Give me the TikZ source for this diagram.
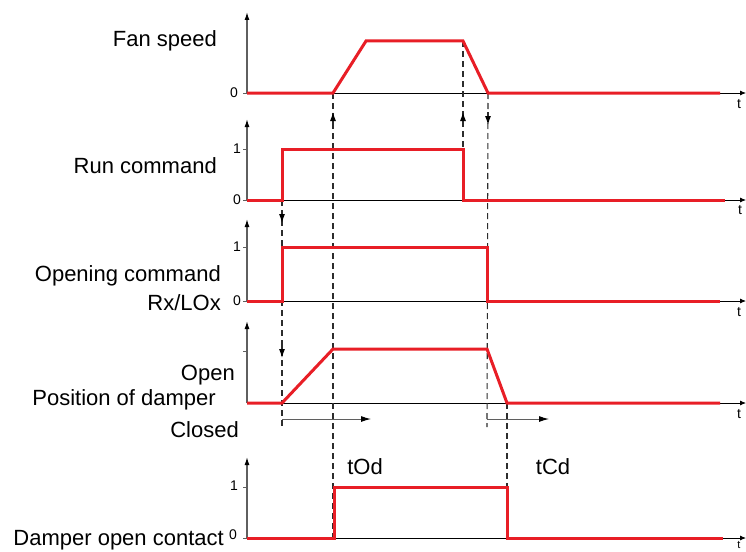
\documentclass[tikz,border=0pt]{standalone}
\usepackage{fontspec}
\setmainfont{Liberation Sans}
\usetikzlibrary{arrows.meta}
\definecolor{sigred}{RGB}{232,30,38}
\definecolor{axisgray}{RGB}{95,95,95}
\definecolor{dashgray}{RGB}{45,45,45}
\begin{document}
\begin{tikzpicture}[x=1pt,y=-1pt,
  sig/.style={sigred, line width=3pt, line join=miter},
  yaxis/.style={axisgray, line width=1.3pt, -{Latex[length=8pt,width=5pt,black]}},
  taxis/.style={black, line width=0.8pt, -{Latex[length=6pt,width=5pt]}},
  guide/.style={dashgray, line width=1.1pt, dash pattern=on 6pt off 4pt},
  midarrow/.style={dashgray, line width=1.1pt, -{Latex[length=9pt,width=6pt,black]}},
  span/.style={axisgray, line width=1pt, -{Latex[length=10pt,width=6pt,black]}},
  tick/.style={axisgray, line width=0.9pt},
  lab/.style={font=\fontsize{22}{25}\selectfont, inner sep=0pt},
  num/.style={font=\fontsize{14}{16}\selectfont, inner sep=0pt},
  tlab/.style={font=\fontsize{14}{16}\selectfont, inner sep=0pt}]
\useasboundingbox (0,0) rectangle (746,551);

% ---------- labels ----------
\node[lab, anchor=east] (lfan) at (217,41) {Fan speed};
\node[lab, anchor=east] (lrun) at (217,166) {Run command};
\node[lab, anchor=east] (lopen1) at (221,276) {Opening command};
\node[lab, anchor=east] (lopen2) at (221,303) {Rx/LOx};
\node[lab, anchor=east] (lpo) at (235,375) {Open};
\node[lab, anchor=east] (lpos) at (216,400) {Position of damper};
\node[lab, anchor=east] (lpc) at (239,430) {Closed};
\node[lab, anchor=east] (ldoc) at (224,540) {Damper open contact};
\node[lab] (ltod) at (365,467) {tOd};
\node[lab] (ltcd) at (553,467) {tCd};

% ---------- axes ----------
% panel 1
\coordinate (a1b) at (247,93); \coordinate (a1t) at (247,12);
\draw[yaxis] (a1b) -- (a1t);
\draw[taxis] (a1b) -- (746,93);
\draw[tick] (243,93) -- (a1b);
\node[num] (z1) at (234,93) {0};
\node[tlab] (t1) at (739,104) {t};
% panel 2
\coordinate (a2b) at (247,200); \coordinate (a2t) at (247,119);
\draw[yaxis] (a2b) -- (a2t);
\draw[taxis] (a2b) -- (746,200);
\draw[tick] (243,200) -- (a2b); \draw[tick] (243,149) -- (247,149);
\node[num] (z2) at (237,200) {0};
\node[num] (o2) at (237,149) {1};
\node[tlab] (t2) at (740,210) {t};
% panel 3
\coordinate (a3b) at (247,301); \coordinate (a3t) at (247,219);
\draw[yaxis] (a3b) -- (a3t);
\draw[taxis] (a3b) -- (746,301);
\draw[tick] (243,301) -- (a3b); \draw[tick] (243,247) -- (247,247);
\node[num] (z3) at (237,301) {0};
\node[num] (o3) at (237,247) {1};
\node[tlab] (t3) at (739,312) {t};
% panel 4
\coordinate (a4b) at (247,403); \coordinate (a4t) at (247,321);
\draw[yaxis] (a4b) -- (a4t);
\draw[taxis] (a4b) -- (746,403);
\draw[tick] (243,351) -- (247,351);
\node[tlab] (t4) at (739,414) {t};
% panel 5
\coordinate (a5b) at (247,538); \coordinate (a5t) at (247,457);
\draw[yaxis] (a5b) -- (a5t);
\draw[taxis] (a5b) -- (746,538);
\draw[tick] (243,538) -- (a5b); \draw[tick] (243,487) -- (247,487);
\node[num] (z5) at (233,535) {0};
\node[num] (o5) at (234,486) {1};
\node[tlab, font=\fontsize{11}{12}\selectfont] (t5) at (739,545) {t};

% ---------- signal corner points ----------
\coordinate (f1) at (333,93);  \coordinate (f2) at (366,41);
\coordinate (f3) at (463,41);  \coordinate (f4) at (488,93);
\coordinate (r1) at (282,200); \coordinate (r2) at (282,149);
\coordinate (r3) at (463,149); \coordinate (r4) at (463,200);
\coordinate (o1) at (282,301); \coordinate (oc2) at (282,247);
\coordinate (oc3) at (487,247); \coordinate (oc4) at (487,301);
\coordinate (p1) at (282,403); \coordinate (p2) at (333,349);
\coordinate (p3) at (487,349); \coordinate (p4) at (507,403);
\coordinate (c1) at (334,538); \coordinate (c2) at (334,487);
\coordinate (c3) at (507,487); \coordinate (c4) at (507,538);

% ---------- dashed guides ----------
\coordinate (g1e) at (333,538);
\coordinate (g2e) at (282,427);
\coordinate (g3e) at (487,427);
\draw[guide] (f1) -- (g1e);
\draw[guide] (f3) -- (r3);
\draw[guide] (f4) -- (g3e);
\draw[guide] (r1) -- (g2e);
\draw[guide] (p4) -- (c4);

% ---------- timing spans ----------
\coordinate (s1a) at (282,419); \coordinate (s1b) at (371,419);
\coordinate (s2a) at (487,419); \coordinate (s2b) at (549,419);
\draw[span] (s1a) -- (s1b);
\draw[span] (s2a) -- (s2b);

% ---------- signals ----------
\draw[sig] (a1b) -- (f1) -- (f2) -- (f3) -- (f4) -- (720,93);
\draw[sig] (a2b) -- (r1) -- (r2) -- (r3) -- (r4) -- (725,200);
\draw[sig] (a3b) -- (o1) -- (oc2) -- (oc3) -- (oc4) -- (720,301);
\draw[sig] (a4b) -- (p1) -- (p2) -- (p3) -- (p4) -- (720,403);
\draw[sig] (a5b) -- (c1) -- (c2) -- (c3) -- (c4) -- (723,538);

% ---------- arrows on guides ----------
\draw[midarrow] (333,125) -- (333,112);
\draw[midarrow] (463,125) -- (463,112);
\draw[midarrow] (488,112) -- (488,125);
\draw[midarrow] (282,210) -- (282,223);
\draw[midarrow] (282,345) -- (282,358);
\end{tikzpicture}
\end{document}
